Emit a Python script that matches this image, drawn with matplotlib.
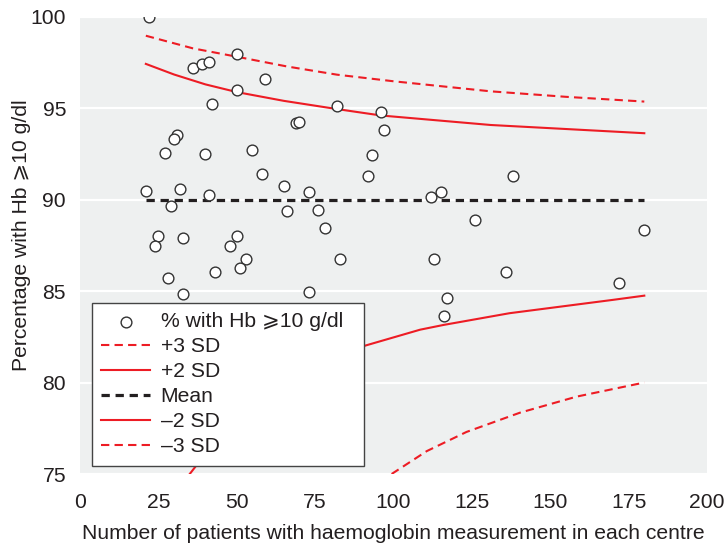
import matplotlib
matplotlib.use("Agg")
import matplotlib.pyplot as plt

# Centre data: number of patients, % with Hb >= 10 g/dl
n_patients = [22, 50, 36, 39, 41, 59, 50, 42, 69, 70, 31, 30, 27, 40, 55, 58, 65, 21,
              32, 41, 73, 29, 66, 76, 25, 24, 33, 50, 48, 53, 51, 43, 28, 33, 73, 82,
              96, 97, 93, 92, 138, 112, 115, 78, 126, 83, 113, 136, 117, 116, 180, 172]
pct_hb = [100.0, 97.96, 97.18, 97.40, 97.52, 96.58, 95.98, 95.21, 94.17, 94.26, 93.54,
          93.30, 92.57, 92.50, 92.72, 91.39, 90.77, 90.48, 90.60, 90.24, 90.42, 89.66,
          89.38, 89.45, 88.02, 87.49, 87.89, 88.02, 87.49, 86.78, 86.27, 86.07, 85.72,
          84.86, 84.94, 95.10, 94.78, 93.79, 92.46, 91.28, 91.28, 90.16, 90.42, 88.47,
          88.89, 86.74, 86.74, 86.03, 84.63, 83.63, 88.33, 85.46]

# Control limits
mean_x = [21, 180]
mean_y = [90.0, 90.0]
p3_x = [21, 36, 51, 66, 82, 100, 131, 155, 180]
p3_y = [98.96, 98.27, 97.78, 97.28, 96.83, 96.47, 95.92, 95.62, 95.36]
p2_x = [21, 30, 40, 50, 65, 82, 96, 131, 155, 180]
p2_y = [97.42, 96.84, 96.30, 95.88, 95.40, 94.95, 94.60, 94.08, 93.86, 93.63]
m2_x = [35, 50, 70, 91, 108.5, 116, 137, 170, 180]
m2_y = [75.0, 78.3, 80.5, 82.02, 82.89, 83.15, 83.79, 84.52, 84.75]
m3_x = [99.4, 110.6, 123.3, 140.3, 158.4, 180]
m3_y = [75.0, 76.25, 77.30, 78.35, 79.23, 80.0]

x_ticks = [0, 25, 50, 75, 100, 125, 150, 175, 200]
y_ticks = [75, 80, 85, 90, 95, 100]

TXT = "#231f20"
RED = "#ed1c24"
FONT = ["Liberation Sans", "DejaVu Sans"]
plt.rcParams["font.family"] = FONT
FS = 15.2

fig = plt.figure(figsize=(7.25, 5.47), dpi=100)
ax = fig.add_axes([80 / 725, 1 - 474 / 547, 627 / 725, (474 - 16.7) / 547])
ax.set_facecolor("#eef0f0")
for s in ax.spines.values():
    s.set_visible(False)

ax.set_xlim(0, 200)
ax.set_ylim(75, 100)
ax.set_xticks(x_ticks)
ax.set_yticks(y_ticks)
ax.tick_params(length=0, labelsize=FS, colors=TXT)
ax.tick_params(axis="y", pad=10)
ax.tick_params(axis="x", pad=14)
ax.yaxis.grid(True, color="white", lw=1.6)
ax.set_axisbelow(True)

ax.plot(p3_x, p3_y, color=RED, lw=1.5, ls=(0, (4, 2.5)), label="+3 SD", zorder=2)
ax.plot(p2_x, p2_y, color=RED, lw=1.5, ls="-", label="+2 SD", zorder=2)
ax.plot(mean_x, mean_y, color=TXT, lw=2.3, ls=(0, (2.6, 1.8)), label="Mean", zorder=2)
ax.plot(m2_x, m2_y, color=RED, lw=1.5, ls="-", label="\u20132 SD", zorder=2)
ax.plot(m3_x, m3_y, color=RED, lw=1.5, ls=(0, (4, 2.5)), label="\u20133 SD", zorder=2)
sc = ax.scatter(n_patients, pct_hb, s=60, facecolor="white", edgecolor="#333333",
                linewidths=1.0, zorder=3, label="% with Hb \u2a7e10 g/dl  ")

handles, labels = ax.get_legend_handles_labels()
order = [5, 0, 1, 2, 3, 4]
leg = ax.legend([handles[i] for i in order], [labels[i] for i in order],
                loc="lower left", bbox_to_anchor=(0.019, 0.0175), borderaxespad=0,
                fontsize=FS, frameon=True, fancybox=False, handlelength=2.3,
                handletextpad=0.5, labelspacing=0.285, borderpad=0.45,
                scatterpoints=1)
leg.get_frame().set_edgecolor("#444444")
leg.get_frame().set_linewidth(1.0)
leg.get_frame().set_facecolor("white")
leg.get_frame().set_alpha(1)
leg.set_zorder(5)
for t in leg.get_texts():
    t.set_color(TXT)

ax.set_xlabel("Number of patients with haemoglobin measurement in each centre",
              fontsize=FS, color=TXT, labelpad=8)
ax.set_ylabel("Percentage with Hb \u2a7e10 g/dl", fontsize=FS, color=TXT)
ax.yaxis.set_label_coords(-0.078, 0.5226)

fig.savefig("out.png", dpi=100)
